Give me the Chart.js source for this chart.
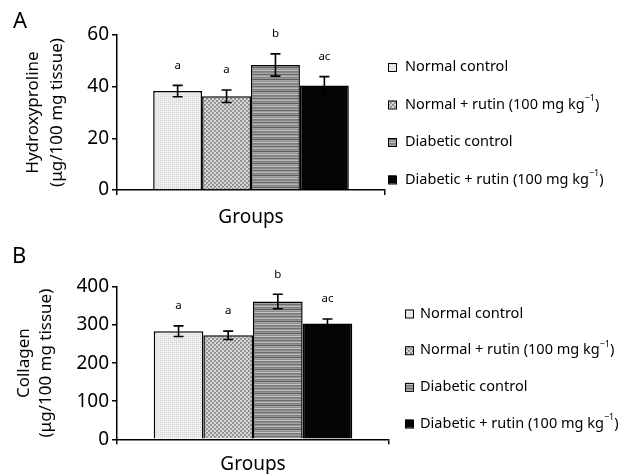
<!DOCTYPE html>
<html>
<head>
<meta charset="utf-8">
<script src="https://cdn.jsdelivr.net/npm/chart.js@4.4.0/dist/chart.umd.min.js"></script>
<style>
  html, body { margin: 0; padding: 0; background: #fff; width: 620px; height: 474px; overflow: hidden; }
  .panel { position: absolute; left: 0; width: 620px; }
  #panelA { top: 0; height: 230px; }
  #panelB { top: 230px; height: 246px; }
</style>
</head>
<body>
<div class="panel" id="panelA"><canvas id="chartA" width="620" height="230"></canvas></div>
<div class="panel" id="panelB"><canvas id="chartB" width="620" height="246"></canvas></div>
<script>
const groups = [
  "Normal control",
  "Normal + rutin (100 mg kg⁻¹)",
  "Diabetic control",
  "Diabetic + rutin (100 mg kg⁻¹)",
];
const letters = ["a", "a", "b", "ac"];

const hydroxyproline = [38.3, 36.3, 48.4, 40.5];
const hydroxyprolineErr = [2.2, 2.4, 4.3, 3.4];
const hydroxyTicks = { max: 60, step: 20 };

const collagen = [284, 273, 362, 304];
const collagenErr = [14, 11, 19, 12];
const collagenTicks = { max: 400, step: 100 };

const FONT = "'Noto Sans', 'Open Sans', sans-serif";

// small fill patterns that mimic the printed hatching
function makePattern(w, h, paint) {
  const c = document.createElement("canvas");
  c.width = w;
  c.height = h;
  const g = c.getContext("2d");
  paint(g);
  return document.createElement("canvas").getContext("2d").createPattern(c, "repeat");
}

const patterns = [
  makePattern(4, 4, (g) => {
    g.fillStyle = "#eeeeee"; g.fillRect(0, 0, 4, 4);
    g.fillStyle = "#c9c9c9"; g.fillRect(0, 0, 1, 1); g.fillRect(2, 2, 1, 1);
    g.fillStyle = "#dcdcdc"; g.fillRect(2, 0, 1, 1); g.fillRect(0, 2, 1, 1);
  }),
  makePattern(4, 4, (g) => {
    g.fillStyle = "#d6d6d6"; g.fillRect(0, 0, 4, 4);
    g.fillStyle = "#8c8c8c"; g.fillRect(0, 0, 2, 2); g.fillRect(2, 2, 2, 2);
    g.fillStyle = "#b0b0b0"; g.fillRect(1, 1, 1, 1); g.fillRect(3, 3, 1, 1);
  }),
  makePattern(2, 12, (g) => {
    const rows = ["#8a8a8a", "#a4a4a4", "#6c6c6c", "#9a9a9a", "#b8b8b8", "#808080",
                  "#949494", "#5e5e5e", "#a8a8a8", "#8e8e8e", "#c4c4c4", "#7a7a7a"];
    rows.forEach((col, i) => { g.fillStyle = col; g.fillRect(0, i, 2, 1); });
  }),
  "#050505",
];

const annotate = {
  id: "annotate",
  afterDatasetsDraw(chart, args, o) {
    const ctx = chart.ctx;
    const y = chart.scales.y;
    chart.data.datasets.forEach((ds, i) => {
      const bar = chart.getDatasetMeta(i).data[0];
      const v = ds.data[0];
      const e = o.errors[i];
      const top = y.getPixelForValue(v + e);
      const bot = y.getPixelForValue(v - e);
      ctx.save();
      ctx.strokeStyle = "#000";
      ctx.lineWidth = 1.6;
      ctx.beginPath();
      ctx.moveTo(bar.x, top); ctx.lineTo(bar.x, bot);
      ctx.moveTo(bar.x - 5, top); ctx.lineTo(bar.x + 5, top);
      ctx.moveTo(bar.x - 5, bot); ctx.lineTo(bar.x + 5, bot);
      ctx.stroke();
      ctx.fillStyle = "#000";
      ctx.font = "11.5px " + FONT;
      ctx.textAlign = "center";
      ctx.textBaseline = "middle";
      ctx.fillText(letters[i], bar.x, top - 20);
      ctx.restore();
    });
  },
  afterDraw(chart, args, o) {
    const ctx = chart.ctx;
    ctx.save();
    ctx.fillStyle = "#000";
    ctx.font = "22px " + FONT;
    ctx.textBaseline = "alphabetic";
    ctx.fillText(o.panel, o.panelX, o.panelY);

    groups.forEach((label, i) => {
      const cy = o.legendY + i * o.legendGap;
      ctx.fillStyle = patterns[i];
      ctx.fillRect(o.legendX, cy - 4, 8, 8);
      ctx.strokeStyle = "#000";
      ctx.lineWidth = 1;
      ctx.strokeRect(o.legendX + 0.5, cy - 3.5, 8, 8);

      ctx.fillStyle = "#000";
      ctx.textBaseline = "middle";
      let tx = o.legendX + o.textOffset;
      const parts = label.split("⁻¹");
      ctx.font = "14.5px " + FONT;
      ctx.fillText(parts[0], tx, cy);
      if (parts.length > 1) {
        tx += ctx.measureText(parts[0]).width;
        ctx.font = "9px " + FONT;
        ctx.fillText("−1", tx, cy - 6);
        tx += ctx.measureText("−1").width;
        ctx.font = "14.5px " + FONT;
        ctx.fillText(parts[1], tx, cy);
      }
    });
    ctx.restore();
  },
};

function makeChart(id, values, errors, ticks, yTitle, opts) {
  const datasets = values.map((v, i) => ({
    label: groups[i],
    data: [v],
    backgroundColor: patterns[i],
    borderColor: "#000",
    borderWidth: 1.5,
    categoryPercentage: 0.73,
    barPercentage: 1,
  }));

  return new Chart(document.getElementById(id), {
    type: "bar",
    data: { labels: [""], datasets },
    plugins: [annotate],
    options: {
      responsive: false,
      animation: false,
      layout: { padding: opts.padding },
      plugins: {
        legend: { display: false },
        tooltip: { enabled: false },
        annotate: Object.assign({ errors }, opts.annot),
      },
      scales: {
        x: {
          ticks: { display: false },
          grid: { display: true, drawOnChartArea: false, drawTicks: true, tickLength: 5, color: "#000", lineWidth: 1.5, offset: true },
          border: { display: true, color: "#000", width: 1.5 },
          title: {
            display: true,
            text: "Groups",
            color: "#000",
            font: { family: FONT, size: 19 },
            padding: opts.xTitlePad,
          },
        },
        y: {
          min: 0,
          max: ticks.max,
          ticks: { stepSize: ticks.step, color: "#000", font: { family: FONT, size: 19 }, padding: 3 },
          grid: { display: true, drawOnChartArea: false, drawTicks: true, tickLength: 5, color: "#000", lineWidth: 1.5 },
          border: { display: true, color: "#000", width: 1.5 },
          title: {
            display: true,
            text: yTitle,
            color: "#000",
            font: { family: FONT, size: 17, lineHeight: opts.yTitleLine },
            padding: { top: opts.yTitlePad, bottom: 0 },
          },
          afterFit(scale) {
            scale.width = 117;
          },
        },
      },
    },
  });
}

makeChart("chartA", hydroxyproline, hydroxyprolineErr, hydroxyTicks,
  ["Hydroxyproline", "(μg/100 mg tissue)"],
  {
    padding: { top: 35, right: 235, bottom: 0, left: 0 },
    xTitlePad: { top: 11.6, bottom: 0.6 },
    yTitleLine: 1.41,
    yTitlePad: 21,
    annot: { panel: "A", panelX: 13, panelY: 28, legendX: 388, legendY: 67, legendGap: 37.5, textOffset: 17 },
  });

makeChart("chartB", collagen, collagenErr, collagenTicks,
  ["Collagen", "(μg/100 mg tissue)"],
  {
    padding: { top: 57, right: 231, bottom: 0, left: 0 },
    xTitlePad: { top: 8.9, bottom: 0 },
    yTitleLine: 1.3,
    yTitlePad: 13,
    annot: { panel: "B", panelX: 12, panelY: 33, legendX: 405, legendY: 83.5, legendGap: 36.7, textOffset: 15 },
  });
</script>
</body>
</html>
